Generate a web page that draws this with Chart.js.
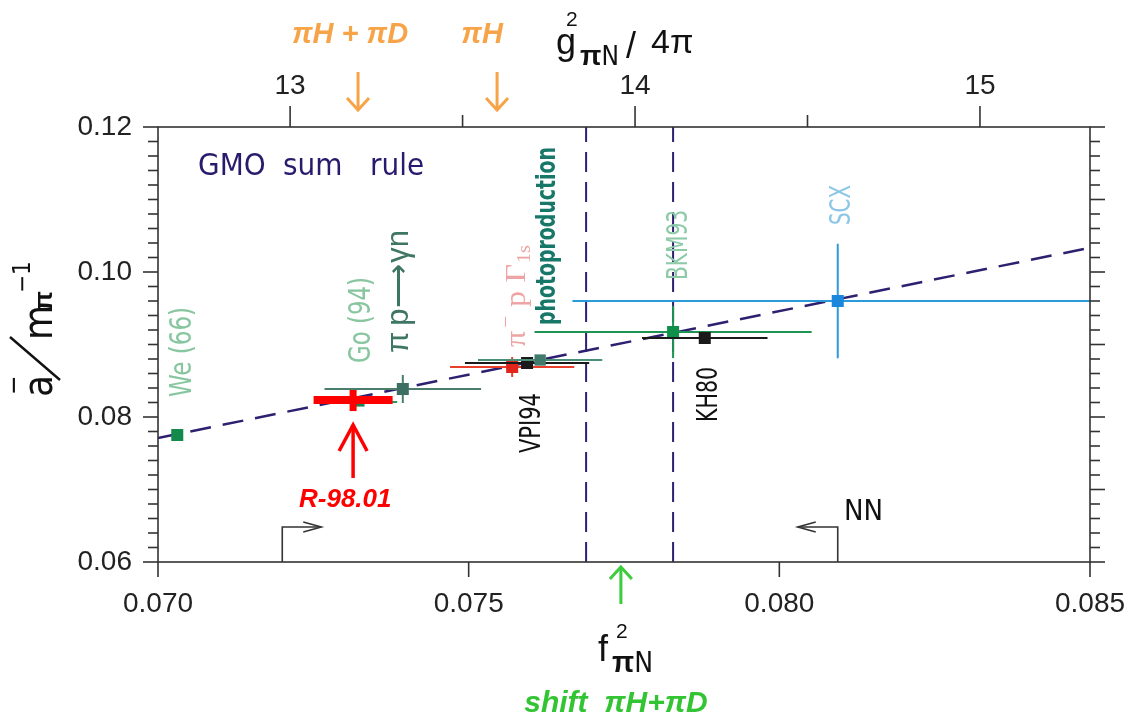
<!DOCTYPE html>
<html><head><meta charset="utf-8">
<script src="https://cdn.jsdelivr.net/npm/chart.js@4.4.1/dist/chart.umd.min.js"></script>
<style>html,body{margin:0;padding:0;background:#fff;}#wrap{width:1135px;height:719px;position:relative;}</style>
</head><body><div id="wrap"><canvas id="c" width="1135" height="719"></canvas></div>
<script>
// ---------------- data ----------------
const expNames = ['We (66)', 'Go (94)', 'R-98.01', 'π p→γn', 'π⁻p Γ1s', 'VPI94', 'photoproduction', 'BKM93', 'KH80', 'SCX'];
const expF     = [0.07031, 0.07325, 0.07314, 0.07394, 0.07570, 0.07594, 0.07615, 0.07829, 0.07880, 0.08094];
const expA     = [0.07752, 0.08207, 0.08234, 0.08386, 0.08690, 0.08745, 0.08786, 0.09172, 0.09090, 0.09600];
const expFErr  = [0, 0.0006, 0.000636, 0.00126, 0.0010, 0.0010, 0.0010, 0.00223, 0.00101, 0.00427];
const expAErr  = [0, 0, 0.00152, 0.00193, 0.00138, 0, 0, 0.0036, 0, 0.0079];
const gmoF = [0.070, 0.085];
const gmoA = [0.0771, 0.10335];
const vLinesF = [0.07689, 0.07829];
const fTicks = [0.070, 0.075, 0.080, 0.085];
const aTicks = [0.06, 0.08, 0.10, 0.12];
const gTicks = [13, 14, 15];
const gMinorTicks = [13.5, 14.5];
const gRange = [12.617, 15.319];     // g²/4π at the two ends of the f² axis
const arrowG = [13.197, 13.60];      // πH+πD , πH
const shiftF = 0.07745;              // shift πH+πD
const nnF = [0.0720, 0.08094];       // NN bracket arrows
const nnA = 0.06483;
const r98ArrowA = [0.0789, 0.07159];

// ---------------- styles ----------------
const COND = '"DejaVu Sans Condensed","Liberation Sans Narrow","Liberation Sans",sans-serif';
const SANS = '"Liberation Sans",Arial,sans-serif';
const SERIF = '"Liberation Serif","DejaVu Serif",serif';
const expStyle = [
  {color:'#138a4c', r:8.5, err:'#138a4c', wx:2, wy:2},
  {color:'#138a4c', r:6.5, err:'#2a9a5a', wx:2, wy:2},
  {color:'#ff0000', r:0,   err:'#ff0000', wx:8, wy:7},
  {color:'#3d6e62', r:8.5, err:'#4a7d6c', wx:2, wy:2},
  {color:'#e0251c', r:8.5, err:'#e8402c', wx:2, wy:2},
  {color:'#1a1a1a', r:8.5, err:'#1a1a1a', wx:2, wy:2},
  {color:'#3f7a6c', r:8,   err:'#4a8f78', wx:2, wy:2},
  {color:'#0e8f4a', r:8.5, err:'#1f9352', wx:2, wy:2},
  {color:'#1a1a1a', r:8.5, err:'#1a1a1a', wx:2, wy:2},
  {color:'#1a86dc', r:8.5, err:'#2a9ad8', wx:2, wy:2}
];
// rotated label anchors: [f (baseline x), a (start y), font, colour, length px]
const labelPos = [
  [0.070531, 0.082759, '30px '+COND, '#88c6a0', 90],
  [0.073412, 0.087448, '30px '+COND, '#88c6a0', 86],
  null,
  [0.074024, 0.088828, '31px '+SANS, '#3f7565', 123],
  [0.075907, 0.089655, null, '#eea4a4', 102],
  [0.076148, 0.075034, '29px '+COND, '#111111', 60],
  [0.076390, 0.092690, 'bold 27px '+COND, '#17786a', 178],
  [0.078514, 0.098897, '29px '+COND, '#8ccaa8', 70],
  [0.078997, 0.079310, '29px '+COND, '#111111', 55],
  [0.081137, 0.106483, '29px '+COND, '#8cc6e6', 40]
];

// ---------------- datasets ----------------
const datasets = [];
vLinesF.forEach(v => datasets.push({type:'line', data:[{x:v,y:0.06},{x:v,y:0.12}], borderColor:'#2e2070', borderWidth:2, borderDash:[20,10], pointRadius:0, xAxisID:'x', yAxisID:'y'}));
datasets.push({type:'line', data:gmoF.map((f,i)=>({x:f,y:gmoA[i]})), borderColor:'#2e2070', borderWidth:2.5, borderDash:[21,12], pointRadius:0, xAxisID:'x', yAxisID:'y'});
expNames.forEach((n,i) => datasets.push({
  type:'scatter', label:n, data:[{x:expF[i], y:expA[i]}],
  pointStyle:'rect', pointRadius:expStyle[i].r, backgroundColor:expStyle[i].color, borderWidth:0,
  errF:expFErr[i], errA:expAErr[i], errColor:expStyle[i].err, errWX:expStyle[i].wx, errWY:expStyle[i].wy,
  xAxisID:'x', yAxisID:'y'
}));
datasets.forEach((d,i) => d.order = datasets.length - i);

// ---------------- plugins ----------------
function seg(ctx,x1,y1,x2,y2){ctx.beginPath();ctx.moveTo(x1,y1);ctx.lineTo(x2,y2);ctx.stroke();}

const errorBars = {
  id:'errorBars',
  beforeDatasetDraw(chart,args){
    const ds = chart.data.datasets[args.index];
    if (ds.errF === undefined) return;
    const {ctx, chartArea:ca} = chart; const xs = chart.scales.x, ys = chart.scales.y;
    const p = ds.data[0];
    const cx = xs.getPixelForValue(p.x), cy = ys.getPixelForValue(p.y);
    ctx.save(); ctx.beginPath(); ctx.rect(ca.left,ca.top,ca.right-ca.left,ca.bottom-ca.top); ctx.clip();
    ctx.strokeStyle = ds.errColor; ctx.lineCap='butt';
    if (ds.errF>0){ctx.lineWidth=ds.errWX; seg(ctx, xs.getPixelForValue(p.x-ds.errF), cy, xs.getPixelForValue(p.x+ds.errF), cy);}
    if (ds.errA>0){ctx.lineWidth=ds.errWY; seg(ctx, cx, ys.getPixelForValue(p.y-ds.errA), cx, ys.getPixelForValue(p.y+ds.errA));}
    ctx.restore();
  }
};

const frameTicks = {
  id:'frameTicks',
  afterDraw(chart){
    const {ctx, chartArea:{left,right,top,bottom}} = chart;
    const xs = chart.scales.x, ys = chart.scales.y, gs = chart.scales.x2;
    ctx.save(); ctx.strokeStyle='#333'; ctx.lineWidth=1.6; ctx.lineCap='butt';
    ctx.strokeRect(left,top,right-left,bottom-top);
    for (let i=0;i<=30;i++){
      const py = ys.getPixelForValue(0.06 + i*0.002);
      const lenL = (i%10===0)?15:10, lenR = (i%5===0)?15:10;
      seg(ctx,left-lenL,py,left,py);
      seg(ctx,right,py,right+lenR,py);
    }
    fTicks.forEach(v=>{const px=xs.getPixelForValue(v); seg(ctx,px,bottom,px,bottom+15);});
    gTicks.forEach(v=>{const px=gs.getPixelForValue(v); seg(ctx,px,top-21,px,top);});
    gMinorTicks.forEach(v=>{const px=gs.getPixelForValue(v); seg(ctx,px,top-12,px,top);});
    ctx.restore();
  }
};

function partsWidth(ctx, parts){let w=0; parts.forEach(p=>{ctx.font=p[1]; w+=ctx.measureText(p[0]).width+(p[3]||0);}); return w;}
function rich(ctx, parts, x, y){
  let cx = x;
  parts.forEach(p=>{ctx.font=p[1]; ctx.fillText(p[0], cx, y+(p[2]||0)); cx += ctx.measureText(p[0]).width + (p[3]||0);});
}
function vRich(ctx, parts, px, py, color, len){
  ctx.save(); ctx.translate(px,py); ctx.rotate(-Math.PI/2);
  if (len) { const w = partsWidth(ctx, parts); ctx.scale(len/w, 1); }
  ctx.fillStyle=color; ctx.textAlign='left'; ctx.textBaseline='alphabetic';
  rich(ctx, parts, 0, 0); ctx.restore();
}
function arrowHead(ctx, tx, ty, dir, len, half){
  ctx.beginPath();
  if (dir==='r'){ctx.moveTo(tx-len,ty-half);ctx.lineTo(tx,ty);ctx.lineTo(tx-len,ty+half);}
  else if (dir==='l'){ctx.moveTo(tx+len,ty-half);ctx.lineTo(tx,ty);ctx.lineTo(tx+len,ty+half);}
  else {ctx.moveTo(tx-half,ty-dir*len);ctx.lineTo(tx,ty);ctx.lineTo(tx+half,ty-dir*len);}
  ctx.stroke();
}

const annotations = {
  id:'annotations',
  afterDraw(chart){
    const {ctx, chartArea:{left,right,top,bottom}} = chart;
    const xs = chart.scales.x, ys = chart.scales.y, gs = chart.scales.x2;
    ctx.save();
    labelPos.forEach((lp,i)=>{
      if (!lp) return;
      const px = xs.getPixelForValue(lp[0]), py = ys.getPixelForValue(lp[1]);
      if (i===4){
        vRich(ctx, [['π','30px '+SERIF,0,3],['−','20px '+SERIF,-13,8],['p','30px '+SERIF,0,8],['Γ','30px '+SERIF,0,1],['1s','19px '+SERIF,5]], px, py, lp[3], lp[4]);
      } else if (i===3){
        vRich(ctx, [['π',lp[2],0,6],['p',lp[2],0,1],['⟶',lp[2],0,1],['γn',lp[2],0]], px, py, lp[3], lp[4]);
      } else {
        vRich(ctx, [[expNames[i], lp[2], 0]], px, py, lp[3], lp[4]);
      }
    });
    // GMO sum rule
    ctx.fillStyle='#2a1a6e'; ctx.font='31px '+COND; ctx.textBaseline='alphabetic'; ctx.textAlign='left';
    const gx = xs.getPixelForValue(0.070644), gy = ys.getPixelForValue(0.113379);
    ctx.fillText('GMO', gx, gy); ctx.fillText('sum', gx+85, gy); ctx.fillText('rule', gx+172, gy);
    // R-98.01 label and arrow
    ctx.fillStyle='#ff0000'; ctx.font='italic bold 26px '+SANS;
    ctx.fillText('R-98.01', xs.getPixelForValue(0.072269), ys.getPixelForValue(0.067586));
    ctx.strokeStyle='#ff0000'; ctx.lineWidth=3.5;
    const rx = xs.getPixelForValue(expF[2]);
    const rTip = ys.getPixelForValue(r98ArrowA[0]), rTail = ys.getPixelForValue(r98ArrowA[1]);
    seg(ctx, rx, rTip, rx, rTail); arrowHead(ctx, rx, rTip, -1, 26, 14);
    // NN brackets
    ctx.strokeStyle='#333'; ctx.lineWidth=1.6;
    const ny = ys.getPixelForValue(nnA);
    const n1 = xs.getPixelForValue(nnF[0]), n2 = xs.getPixelForValue(nnF[1]);
    ctx.beginPath(); ctx.moveTo(n1,bottom); ctx.lineTo(n1,ny); ctx.lineTo(n1+39,ny); ctx.stroke();
    arrowHead(ctx, n1+39, ny, 'r', 18, 5);
    ctx.beginPath(); ctx.moveTo(n2,bottom); ctx.lineTo(n2,ny); ctx.lineTo(n2-40,ny); ctx.stroke();
    arrowHead(ctx, n2-40, ny, 'l', 18, 5);
    ctx.fillStyle='#111'; ctx.font='29px '+COND;
    ctx.fillText('NN', xs.getPixelForValue(0.081041), ys.getPixelForValue(0.065793));
    // orange arrows and labels (top)
    ctx.strokeStyle='#f7a448'; ctx.lineWidth=3;
    arrowG.forEach(g=>{const px=gs.getPixelForValue(g); seg(ctx,px,72,px,110); arrowHead(ctx,px,110,1,12,11);});
    ctx.fillStyle='#f7a448'; ctx.font='italic bold 29px '+SANS; ctx.textAlign='center';
    ctx.fillText('πH + πD', gs.getPixelForValue(arrowG[0])-8, 43);
    ctx.fillText('πH', gs.getPixelForValue(arrowG[1])-15, 43);
    // green shift arrow
    ctx.strokeStyle='#3ccc3c'; ctx.lineWidth=3;
    const sx = xs.getPixelForValue(shiftF);
    seg(ctx, sx, 567, sx, 604); arrowHead(ctx, sx, 567, -1, 12, 11);
    ctx.fillStyle='#33c433'; ctx.font='italic bold 30px '+SANS;
    ctx.fillText('shift  πH+πD', 616, 712);
    ctx.textAlign='left';
    // top axis title g²πN / 4π
    ctx.fillStyle='#111';
    rich(ctx, [['g','36px '+SANS,0]], 556, 54);
    rich(ctx, [['2','21px '+SANS,0]], 566, 26);
    rich(ctx, [['π','bold 28px '+SANS,0],['N','26px '+COND,0]], 580, 65);
    rich(ctx, [['/','36px '+SANS,0]], 626, 58);
    rich(ctx, [['4π','34px '+SANS,0]], 651, 53);
    // bottom axis title f²πN
    rich(ctx, [['f','36px '+SANS,0]], 598, 661);
    rich(ctx, [['2','21px '+SANS,0]], 616, 638);
    rich(ctx, [['π','bold 29px '+SANS,0],['N','28px '+COND,0]], 612, 672);
    // y axis title a⁻/mπ⁻¹
    ctx.save(); ctx.translate(52,397); ctx.rotate(-Math.PI/2);
    ctx.fillStyle='#111'; ctx.font='40px '+COND; ctx.fillText('a',0,0);
    ctx.font='26px '+COND; ctx.fillText('−',2,-30);
    ctx.strokeStyle='#111'; ctx.lineWidth=2.4; seg(ctx,17,8,60,-42);
    ctx.font='40px '+COND; ctx.fillText('m',57,0);
    ctx.font='bold 26px '+SANS; ctx.fillText('π',86,0);
    ctx.font='24px '+COND; ctx.fillText('−1',104,-22);
    ctx.restore();
    ctx.restore();
  }
};

const noPadH = s => { s.paddingLeft = 0; s.paddingRight = 0; };
const noPadV = s => { s.paddingTop = 0; s.paddingBottom = 0; };

new Chart(document.getElementById('c'), {
  type:'scatter',
  data:{datasets},
  options:{
    responsive:false, animation:false, devicePixelRatio:1,
    layout:{padding:0},
    plugins:{legend:{display:false}, tooltip:{enabled:false}},
    scales:{
      x:{type:'linear', position:'bottom', min:0.070, max:0.085,
         grid:{display:false, drawTicks:false}, border:{display:false},
         ticks:{font:{family:SANS,size:28}, color:'#222', padding:25, maxRotation:0, autoSkip:false, callback:v=>Number(v).toFixed(3)},
         afterBuildTicks:s=>{s.ticks=fTicks.map(v=>({value:v}));},
         afterFit:s=>{s.height=157; noPadH(s);}},
      x2:{type:'linear', position:'top', min:gRange[0], max:gRange[1],
         grid:{display:false, drawTicks:false}, border:{display:false},
         ticks:{font:{family:SANS,size:28}, color:'#222', padding:24, maxRotation:0, autoSkip:false, callback:v=>String(v)},
         afterBuildTicks:s=>{s.ticks=gTicks.map(v=>({value:v}));},
         afterFit:s=>{s.height=127; noPadH(s);}},
      y:{type:'linear', position:'left', min:0.06, max:0.12,
         grid:{display:false, drawTicks:false}, border:{display:false},
         ticks:{font:{family:SANS,size:28}, color:'#222', padding:26, autoSkip:false, callback:v=>Number(v).toFixed(2)},
         afterBuildTicks:s=>{s.ticks=aTicks.map(v=>({value:v}));},
         afterFit:s=>{s.width=158; noPadV(s);}},
      y2:{type:'linear', position:'right', min:0.06, max:0.12,
         grid:{display:false, drawTicks:false}, border:{display:false},
         ticks:{display:false},
         afterFit:s=>{s.width=45; noPadV(s);}}
    }
  },
  plugins:[errorBars, frameTicks, annotations]
});
</script></body></html>
